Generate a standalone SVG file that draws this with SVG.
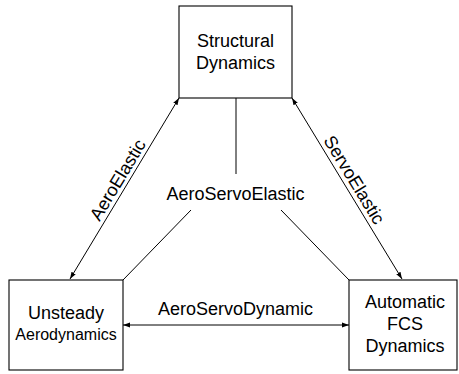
<svg xmlns="http://www.w3.org/2000/svg" width="459" height="374" viewBox="0 0 459 374">
<defs>
<marker id="ah" viewBox="0 0 10 10" refX="10" refY="5" markerWidth="7" markerHeight="7" markerUnits="userSpaceOnUse" orient="auto-start-reverse">
<path d="M0,1.5 L10,5 L0,8.5 Z" fill="#000"/>
</marker>
</defs>
<style>
.box{fill:#fff;stroke:#000;stroke-width:1.1}
.t{font-family:"Liberation Sans",Arial,sans-serif;font-size:18px;fill:#000;text-anchor:middle}
.s{font-size:16px}
.ln{stroke:#000;stroke-width:1;fill:none}
.ar{stroke:#000;stroke-width:1;fill:none;marker-start:url(#ah);marker-end:url(#ah)}
</style>
<rect width="459" height="374" fill="#fff"/>
<g id="connectors">
<line class="ar" x1="179" y1="98" x2="70" y2="279"/>
<line class="ar" x1="292" y1="98" x2="402" y2="279"/>
<line class="ar" x1="123" y1="325" x2="349" y2="325"/>
<line class="ln" x1="236" y1="98" x2="236" y2="174"/>
<line class="ln" x1="191" y1="210" x2="123" y2="280"/>
<line class="ln" x1="281" y1="210" x2="349" y2="280"/>
<text class="t" transform="translate(123,183) rotate(-58.9)">AeroElastic</text>
<text class="t" transform="translate(349,183) rotate(58.7)">ServoElastic</text>
<text class="t" x="235.5" y="200">AeroServoElastic</text>
<text class="t" x="235.5" y="315">AeroServoDynamic</text>
</g>
<g id="structural">
<rect class="box" x="179" y="6" width="113" height="92"/>
<text class="t" x="235.5" y="47">Structural</text>
<text class="t" x="235.5" y="69">Dynamics</text>
</g>
<g id="unsteady">
<rect class="box" x="9" y="280" width="114" height="90"/>
<text class="t" x="66" y="319">Unsteady</text>
<text class="t s" x="66" y="340">Aerodynamics</text>
</g>
<g id="fcs">
<rect class="box" x="349" y="280" width="108" height="90"/>
<text class="t" x="405" y="308">Automatic</text>
<text class="t" x="405" y="330">FCS</text>
<text class="t" x="405" y="352">Dynamics</text>
</g>
</svg>
